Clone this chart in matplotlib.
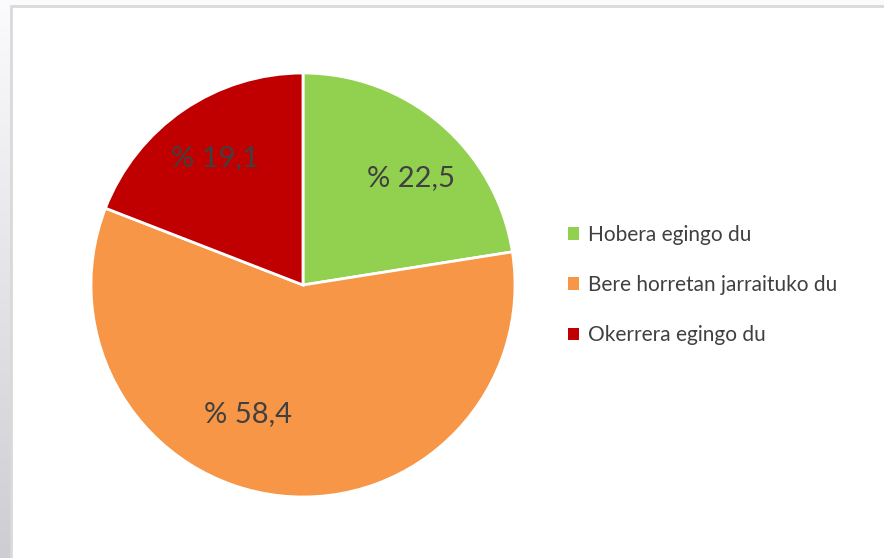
import matplotlib
matplotlib.use("Agg")
import matplotlib.pyplot as plt
import numpy as np
from matplotlib.patches import Rectangle

categories = ["Hobera egingo du", "Bere horretan jarraituko du", "Okerrera egingo du"]
values = [22.5, 58.4, 19.1]
value_labels = ["% 22,5", "% 58,4", "% 19,1"]
colors = ["#92d050", "#f79646", "#c00000"]

W, H = 884, 558
fig = plt.figure(figsize=(W / 100, H / 100), dpi=100)
fig.patch.set_facecolor("#fbfafc")

# background: left gradient strip + white panel with light border
bg = fig.add_axes([0, 0, 1, 1])
bg.set_xlim(0, W)
bg.set_ylim(H, 0)
bg.axis("off")
grad = np.linspace(0, 1, 256).reshape(-1, 1)
top = np.array([0xfb, 0xfa, 0xfc]) / 255
bot = np.array([0xce, 0xcd, 0xd3]) / 255
img = top + (bot - top) * grad[:, :, None]
bg.imshow(img, extent=[0, 11, H, 0], aspect="auto", zorder=0)
bg.add_patch(Rectangle((11, 6), W, H, facecolor="white", edgecolor="#d9d9d9", linewidth=2, zorder=1))

# pie
cx, cy, r = 303, 285, 212
ax = fig.add_axes([(cx - r) / W, (H - cy - r) / H, 2 * r / W, 2 * r / H])
wedges, texts = ax.pie(values, colors=colors, startangle=90, counterclock=False,
                       radius=1, wedgeprops=dict(edgecolor="white", linewidth=2))
ax.set_xlim(-1, 1)
ax.set_ylim(-1, 1)
ax.set_aspect("equal")
ax.axis("off")

label_pos = [(0.51, 0.505), (-0.26, -0.61), (-0.415, 0.60)]
for lab, (x, y) in zip(value_labels, label_pos):
    ax.text(x, y, lab, ha="center", va="center", fontsize=21, color="#404040",
            family=["Lato", "DejaVu Sans"])

# legend
leg = fig.legend(wedges, categories, loc="center left",
                 bbox_to_anchor=(549 / W, 1 - 285 / H),
                 frameon=False, handlelength=0.55, handleheight=0.55,
                 handletextpad=0.4, labelspacing=1.45,
                 prop=dict(family=["Lato", "DejaVu Sans"], size=15))
for t in leg.get_texts():
    t.set_color("#404040")
for h in leg.legend_handles:
    h.set_edgecolor("none")

fig.savefig("out.png", dpi=100, facecolor=fig.get_facecolor())
